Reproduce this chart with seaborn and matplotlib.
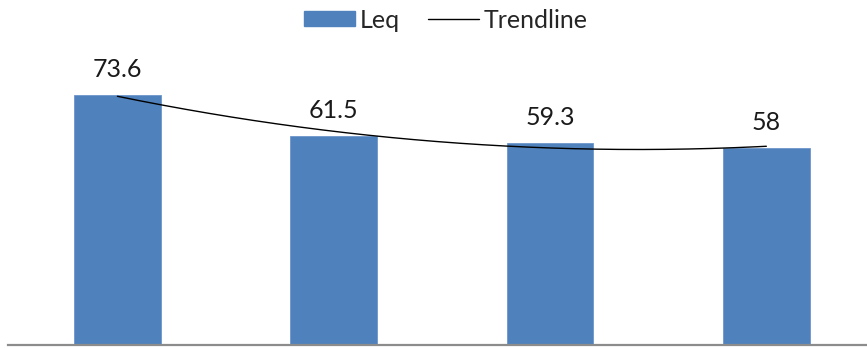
import numpy as np
import seaborn as sns
import matplotlib.pyplot as plt
from matplotlib.patches import Patch
from matplotlib.lines import Line2D

# data
categories = ["A", "B", "C", "D"]
leq = [73.6, 61.5, 59.3, 58.0]
labels = ["73.6", "61.5", "59.3", "58"]

sns.set_style("white")
plt.rcParams['font.family'] = ['Lato', 'DejaVu Sans']

fig = plt.figure(figsize=(8.67, 3.49), dpi=100)
W, H = 867, 349
ax = fig.add_axes([8 / W, 4 / H, 859 / W, 305 / H])

sns.barplot(x=categories, y=leq, color="#4F81BD", saturation=1, width=0.4,
            edgecolor="#6C96CB", linewidth=0.6, ax=ax)

# 2nd order polynomial trendline (like Excel)
xs = np.arange(len(leq))
coef = np.polyfit(xs, leq, 2)
xx = np.linspace(0, len(leq) - 1, 200)
ax.plot(xx, np.polyval(coef, xx), color="black", lw=1.0)

for i, (v, t) in enumerate(zip(leq, labels)):
    ax.annotate(t, (i, v), xytext=(0, 13), textcoords="offset points",
                ha="center", va="baseline", fontsize=18, color="#1a1a1a")

ax.set_xlim(-0.506, -0.506 + 859 / 216.3)
ax.set_ylim(0, 305 / 3.4)
ax.set_xticks([])
ax.set_yticks([])
ax.set_xlabel("")
ax.set_ylabel("")
for s in ["top", "right", "left"]:
    ax.spines[s].set_visible(False)
ax.spines["bottom"].set_color("#8c8c8c")
ax.spines["bottom"].set_linewidth(1.6)

handles = [Patch(facecolor="#4F81BD", edgecolor="#4F81BD"),
           Line2D([0], [0], color="black", lw=1.0)]
fig.legend(handles, ["Leq", "Trendline"], loc="center", bbox_to_anchor=(446 / W, 1 - 20 / H),
           ncol=2, frameon=False, fontsize=18, handlelength=2.05, handleheight=0.55,
           handletextpad=0.2, columnspacing=1.1)

fig.savefig("out.png", dpi=100)
